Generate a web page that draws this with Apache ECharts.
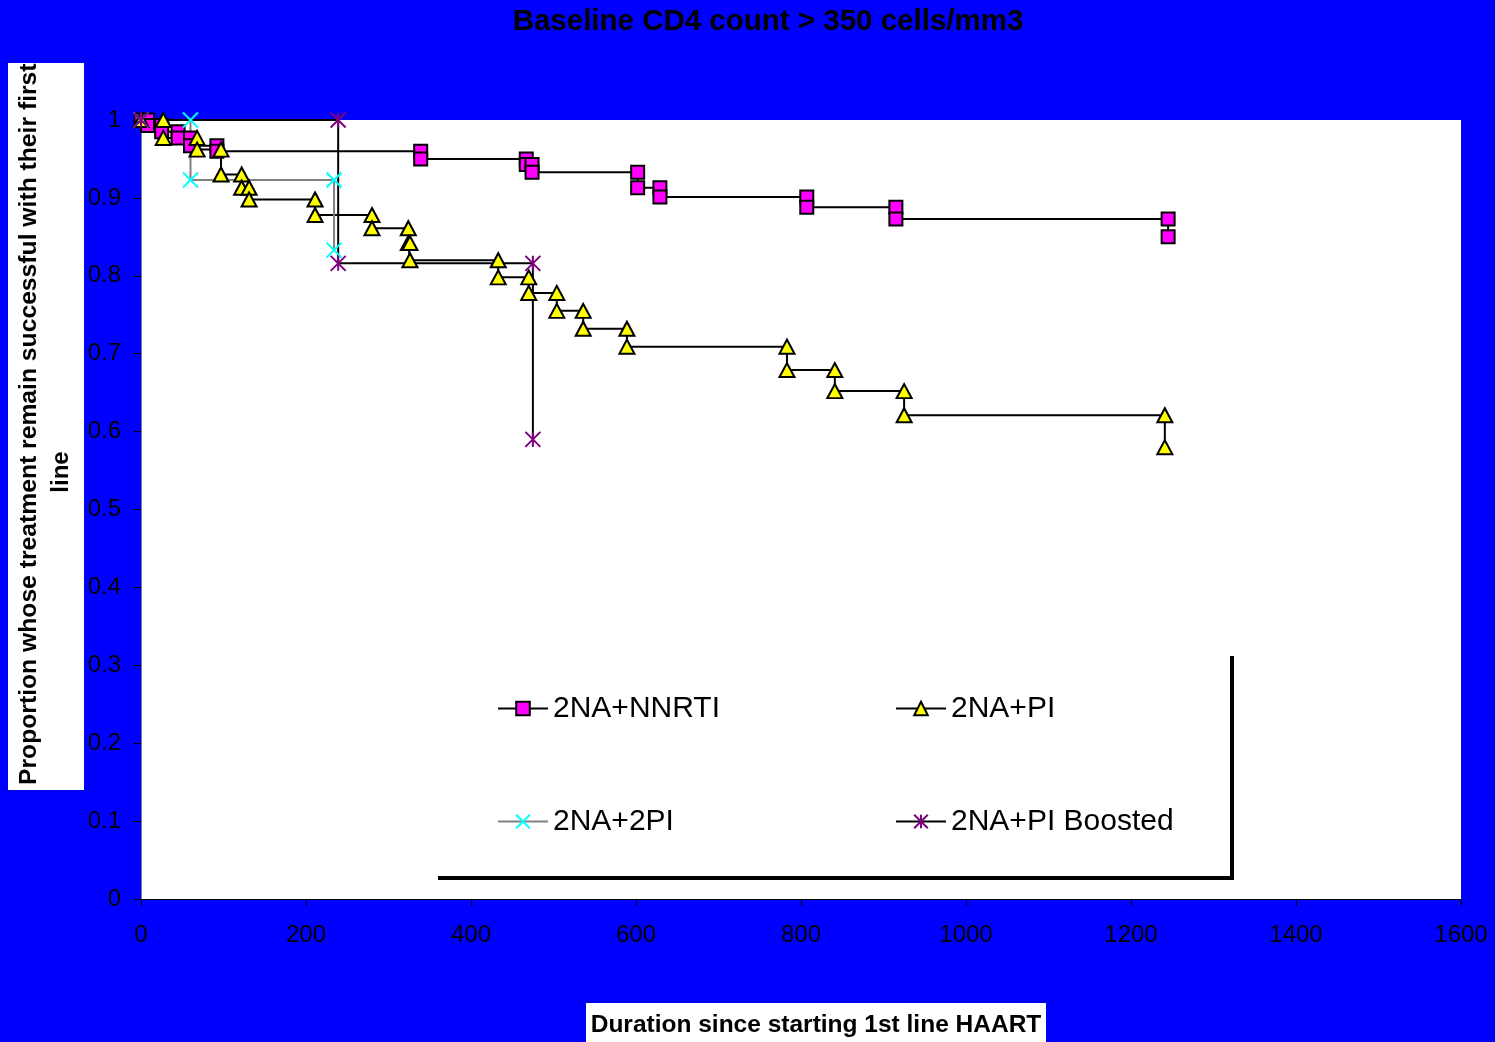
<!DOCTYPE html>
<html>
<head>
<meta charset="utf-8">
<script src="https://cdn.jsdelivr.net/npm/echarts@6/dist/echarts.min.js"></script>
<style>
  html, body { margin: 0; padding: 0; background: #0000FF; }
  #chart { width: 1495px; height: 1042px; }
</style>
</head>
<body>
<div id="chart"></div>
<script>
// Kaplan-Meier event times (days) and survival after each event
const nnrtiTimes = [8, 25, 45, 60, 92, 339, 467, 474, 602, 629, 807, 915, 1245];
const nnrtiSurv = [0.993, 0.985, 0.977, 0.967, 0.960, 0.950, 0.943, 0.933, 0.913, 0.901, 0.888, 0.873, 0.850];

const piTimes = [27, 68, 97, 122, 131, 211, 280, 324, 326, 433, 470, 504, 536, 589, 783, 841, 925, 1241];
const piSurv = [0.977, 0.962, 0.930, 0.913, 0.898, 0.878, 0.861, 0.842, 0.820, 0.798, 0.778, 0.755, 0.732, 0.709, 0.679, 0.652, 0.621, 0.580];

const twoPiTimes = [60, 234];
const twoPiSurv = [0.923, 0.833];

const boostedTimes = [239, 475];
const boostedSurv = [0.816, 0.590];

const xTicks = [0, 200, 400, 600, 800, 1000, 1200, 1400, 1600];

// step vertices: start at (0,1), then for each event a point before and after the drop
function steps(times, surv) {
    const pts = [[0, 1]];
    let prev = 1;
    times.forEach((t, i) => {
        pts.push([t, prev]);
        pts.push([t, surv[i]]);
        prev = surv[i];
    });
    return pts;
}

const FONT = '"Liberation Sans", Arial, sans-serif';

var myChart = echarts.init(document.getElementById('chart'));
myChart.setOption({
    backgroundColor: '#0000FF',
    animation: false,
    title: {
        text: 'Baseline CD4 count > 350 cells/mm3',
        left: 768,
        textAlign: 'center',
        top: 7,
        padding: 0,
        textStyle: {fontFamily: FONT, fontWeight: 'bold', fontSize: 29.5, color: '#000'}
    },
    grid: {
        left: 141,
        right: 34,
        top: 120,
        bottom: 143,
        show: true,
        backgroundColor: '#fff',
        borderWidth: 0
    },
    legend: [
        {name: '2NA+NNRTI', left: 497, top: 693},
        {name: '2NA+PI', left: 895, top: 693},
        {name: '2NA+2PI', left: 497, top: 806},
        {name: '2NA+PI Boosted', left: 895, top: 806}
    ].map(l => ({
        data: [l.name],
        left: l.left,
        top: l.top,
        padding: 0,
        itemWidth: 50,
        itemHeight: 17,
        itemGap: 0,
        textStyle: {fontFamily: FONT, fontSize: 30, color: '#000', lineHeight: 31}
    })),
    xAxis: {
        type: 'value',
        min: 0,
        max: 1600,
        interval: 200,
        splitLine: {show: false},
        axisLine: {lineStyle: {color: '#000', width: 1}},
        axisTick: {length: 7, lineStyle: {color: '#000'}},
        axisLabel: {
            margin: 24,
            fontFamily: FONT,
            fontSize: 24,
            color: '#000',
            formatter: v => xTicks.includes(v) ? String(v) : ''
        }
    },
    yAxis: {
        type: 'value',
        min: 0,
        max: 1,
        interval: 0.1,
        splitLine: {show: false},
        axisLine: {show: true, lineStyle: {color: '#808080', width: 1}},
        axisTick: {show: true, length: 7, lineStyle: {color: '#000'}},
        axisLabel: {
            margin: 20,
            fontFamily: FONT,
            fontSize: 24,
            color: '#000',
            formatter: v => String(Math.round(v * 10) / 10)
        }
    },
    series: [
        {
            name: '2NA+NNRTI',
            data: steps(nnrtiTimes, nnrtiSurv),
            symbol: 'rect',
            symbolSize: 13,
            itemStyle: {color: '#FF00FF', borderColor: '#000', borderWidth: 2},
            lineStyle: {color: '#000', width: 2}
        },
        {
            name: '2NA+PI',
            data: steps(piTimes, piSurv),
            symbol: 'triangle',
            symbolSize: [15, 14],
            itemStyle: {color: '#FFFF00', borderColor: '#000', borderWidth: 2},
            lineStyle: {color: '#000', width: 2}
        },
        {
            name: '2NA+2PI',
            data: steps(twoPiTimes, twoPiSurv),
            symbol: 'path://M0 0L10 10M10 0L0 10',
            symbolSize: 15,
            itemStyle: {color: '#00FFFF', borderColor: '#00FFFF', borderWidth: 2},
            lineStyle: {color: '#808080', width: 2}
        },
        {
            name: '2NA+PI Boosted',
            data: steps(boostedTimes, boostedSurv),
            symbol: 'path://M0 0L10 10M10 0L0 10M5 0L5 10',
            symbolSize: 15,
            itemStyle: {color: '#800080', borderColor: '#800080', borderWidth: 2},
            lineStyle: {color: '#000', width: 2}
        }
    ].map(obj => ({
        ...obj,
        type: 'line',
        showAllSymbol: true,
        clip: false
    })),
    graphic: [
        // legend frame (right and bottom edges)
        {type: 'line', shape: {x1: 1232, y1: 656, x2: 1232, y2: 880}, style: {stroke: '#000', lineWidth: 4}, z: 10},
        {type: 'line', shape: {x1: 438, y1: 878, x2: 1234, y2: 878}, style: {stroke: '#000', lineWidth: 4}, z: 10},
        // y axis title box
        {type: 'rect', shape: {x: 8, y: 63, width: 76, height: 727}, style: {fill: '#fff'}, z: 1},
        {
            type: 'text', x: 29, y: 785, rotation: Math.PI / 2, z: 2,
            style: {text: 'Proportion whose treatment remain successful with their first', font: 'bold 24.7px ' + FONT, fill: '#000', align: 'left', verticalAlign: 'middle'}
        },
        {
            type: 'text', x: 61, y: 472, rotation: Math.PI / 2, z: 2,
            style: {text: 'line', font: 'bold 24px ' + FONT, fill: '#000', align: 'center', verticalAlign: 'middle'}
        },
        {type: 'rect', shape: {x: 0, y: 0, width: 140, height: 63}, style: {fill: '#0000FF'}, z: 3},
        // x axis title box
        {type: 'rect', shape: {x: 586, y: 1003, width: 460, height: 45}, style: {fill: '#fff'}, z: 1},
        {
            type: 'text', x: 816, y: 1025, z: 2,
            style: {text: 'Duration since starting 1st line HAART', font: 'bold 24.5px ' + FONT, fill: '#000', align: 'center', verticalAlign: 'middle'}
        }
    ]
});
</script>
</body>
</html>
